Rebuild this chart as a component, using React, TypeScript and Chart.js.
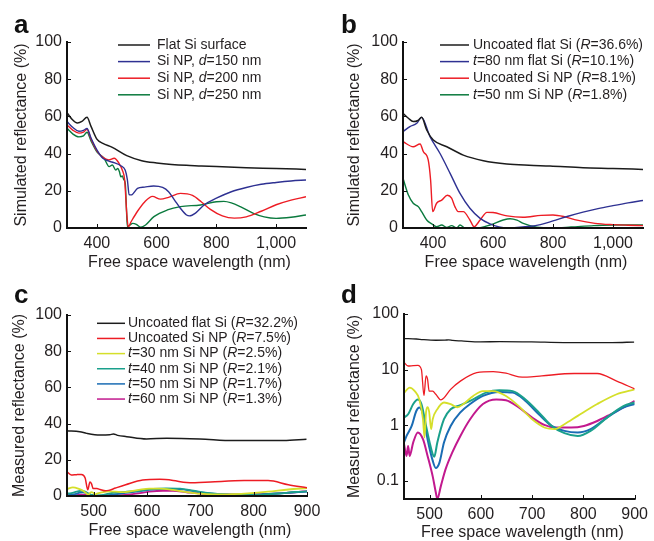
import React, { useEffect, useRef } from "react";
import { Chart, registerables } from "chart.js";

Chart.register(...registerables);

const FONT = "'Liberation Sans', Arial, Helvetica, sans-serif";
const TXT = "#231f20";

// ---------- Panel a: simulated, Si NP diameters ----------
const aFlatWl = [300, 315, 335, 350, 367, 380, 400, 420, 450, 500, 550, 600, 650, 700, 750, 800, 900, 1000, 1100];
const aFlatR = [62, 58.8, 56.5, 57.3, 59.5, 54.8, 47.8, 45.5, 43.5, 38.9, 36.2, 35, 34.2, 33.7, 33.4, 33, 32.4, 32, 31.5];
const aD150Wl = [300, 320, 340, 355, 367, 380, 400, 420, 440, 460, 480, 495, 502, 508, 515, 536, 560, 590, 620, 640, 660, 680, 700, 710, 730, 760, 800, 850, 900, 950, 1000, 1050, 1100];
const aD150R = [57.2, 54, 52, 52.5, 53.5, 48.5, 42, 37.5, 36, 35, 33.5, 31, 26, 18, 17.8, 21.3, 22, 22.6, 21.8, 19.5, 15, 10.5, 7, 6.5, 8, 12.5, 16, 19.5, 21.8, 23.5, 24.5, 25.3, 25.8];
const aD200Wl = [300, 320, 340, 355, 367, 380, 400, 420, 440, 458, 474, 485, 493, 500, 505, 515, 536, 560, 586, 613, 640, 680, 720, 750, 780, 820, 860, 900, 950, 1000, 1050, 1100];
const aD200R = [55.4, 52.5, 51, 51.5, 53, 48, 41.5, 38, 36.6, 37.5, 34.8, 31.2, 25.8, 7.9, 0.7, 3.5, 9, 14, 17, 15.5, 16.5, 18.6, 17.5, 14, 10, 6.5, 5.3, 6, 9, 12.5, 15, 16.8];
const aD250Wl = [300, 320, 340, 355, 367, 380, 400, 424, 441, 452, 463, 470, 476, 480, 485, 490, 495, 499, 502, 510, 520, 532, 547, 563, 591, 636, 680, 747, 800, 825, 850, 880, 924, 960, 1000, 1050, 1100];
const aD250R = [53.6, 50.5, 49, 49.5, 51.5, 47, 41, 37.5, 33, 33.9, 31.2, 32, 30, 27.5, 28, 26, 24, 10, 0.7, 1.5, 2.5, 2, 0.4, 1.6, 6.1, 9.7, 11.5, 12.4, 14.1, 14.3, 13.5, 11.5, 7.9, 6, 5.2, 5.8, 7];

// ---------- Panel b: simulated, coatings ----------
const bFlatWl = [300, 318, 334, 350, 362, 379, 401, 446, 501, 568, 646, 720, 790, 900, 1000, 1100];
const bFlatR = [61.7, 59, 57.2, 57.8, 59.5, 52.7, 47.3, 43.7, 39.2, 36.2, 34.4, 33.7, 33.3, 32.4, 32, 31.5];
const bT80Wl = [300, 323, 346, 362, 390, 423, 457, 490, 523, 557, 590, 620, 647, 680, 720, 758, 800, 850, 900, 950, 1000, 1050, 1100];
const bT80R = [51.8, 54.5, 56.3, 59.5, 49.1, 40.2, 29.4, 18.6, 10.6, 5.2, 2.2, 0.6, 0, 0.3, 0.8, 1.8, 3.8, 6.3, 8.5, 10.4, 12, 13.5, 14.8];
const bNPWl = [300, 334, 357, 368, 384, 392, 399, 412, 429, 448, 462, 473, 484, 501, 523, 537, 557, 580, 600, 647, 700, 760, 800, 840, 880, 940, 1000, 1050, 1100];
const bNPR = [46.4, 43.7, 45.2, 41, 36.6, 25.8, 8.8, 13.3, 15, 17.6, 16, 11.5, 8.8, 8.8, 4.3, 0.7, 4.3, 8.4, 8.3, 6.5, 5.8, 6.8, 7, 6, 4.2, 2.5, 1.8, 1.5, 1.3];
const bT50Wl = [300, 318, 334, 351, 362, 379, 396, 412, 429, 446, 462, 479, 490, 507, 546, 590, 634, 657, 680, 701, 746, 800, 860, 936, 1000, 1100];
const bT50R = [26.7, 17.7, 13.3, 11.5, 8.8, 4.3, 2.2, 0.7, 1.6, 0.3, 1.3, 0, 1.6, 0, 0, 1.6, 4.3, 5, 4.2, 2.5, 0.4, 0, 0.5, 1.3, 1.6, 1.7];

// ---------- Panels c and d: measured (same data, linear and log) ----------
const mFlatWl = [450, 474, 487, 512, 530, 537, 545, 562, 599, 637, 699, 762, 856, 899];
const mFlatR = [36.1, 35.5, 34.6, 33.7, 33.8, 34.3, 33.5, 32.8, 31.5, 31.9, 31.5, 30.6, 30.6, 31.3];
const mNPWl = [450, 458, 468, 477, 484, 489, 493, 496, 499, 506, 512, 522, 528, 541, 560, 592, 624, 649, 674, 690, 719, 782, 827, 865, 900];
const mNPR = [13.4, 11.6, 11.8, 11.9, 10, 3.4, 7.7, 6.7, 4.1, 4.1, 3.6, 2.85, 3.1, 4.4, 6.2, 8.8, 9.2, 8.6, 7.4, 7.3, 7.7, 8.5, 8.5, 6.2, 4.5];
const mT30Wl = [450, 461, 471, 480, 487, 490, 493, 496, 499, 503, 506, 515, 528, 541, 554, 566, 585, 604, 623, 649, 674, 700, 725, 744, 763, 789, 827, 865, 900];
const mT30R = [3.8, 4.75, 4.1, 2.9, 1.28, 0.6, 1.7, 2.1, 1.75, 0.85, 1.28, 1.94, 2.56, 2.4, 2.1, 2.4, 3.36, 4.1, 4.1, 3.36, 2.2, 1.28, 0.9, 0.85, 1.04, 1.47, 2.4, 3.6, 4.4];
const mT40Wl = [450, 458, 468, 477, 484, 493, 500, 506, 509, 515, 528, 541, 560, 585, 611, 636, 662, 687, 713, 738, 763, 789, 814, 846, 878, 900];
const mT40R = [1.37, 1.57, 2.4, 2.9, 2.4, 0.97, 0.49, 0.3, 0.27, 0.49, 1.28, 1.94, 2.29, 2.9, 3.9, 4.25, 4.1, 2.9, 1.7, 0.97, 0.72, 0.64, 0.79, 1.37, 2.2, 2.56];
const mT50Wl = [450, 455, 465, 474, 480, 487, 496, 506, 512, 519, 528, 541, 560, 579, 604, 636, 662, 687, 713, 738, 763, 789, 814, 846, 878, 900];
const mT50R = [0.49, 0.64, 0.97, 1.8, 2.08, 1.57, 0.56, 0.23, 0.17, 0.21, 0.49, 0.97, 1.7, 2.4, 3.36, 3.96, 3.85, 2.73, 1.57, 0.97, 0.79, 0.74, 0.85, 1.37, 2.08, 2.4];
const mT60Wl = [450, 455, 458, 461, 468, 477, 487, 496, 506, 512, 515, 522, 531, 544, 560, 579, 604, 630, 649, 674, 700, 725, 744, 776, 801, 827, 853, 878, 900];
const mT60R = [0.46, 0.28, 0.42, 0.28, 0.49, 0.74, 0.56, 0.28, 0.12, 0.062, 0.047, 0.081, 0.16, 0.32, 0.64, 1.28, 2.4, 2.9, 2.81, 2.08, 1.37, 1.0, 0.91, 0.91, 0.97, 1.19, 1.57, 2.08, 2.73];

// ---------- Axis ticks ----------
const simXTicks = [400, 600, 800, 1000];
const simYTicks = [0, 20, 40, 60, 80, 100];
const measXTicks = [500, 600, 700, 800, 900];
const measYTicksLin = [0, 20, 40, 60, 80, 100];
const measYTicksLog = [0.1, 1, 10, 100];

// ---------- Colours ----------
const BLACK = "#1c1c1c";
const NAVY = "#2e3192";
const RED = "#ed1c24";
const GREEN = "#0b7a3e";
const YELLOW = "#d5df2a";
const TEAL = "#1aa08c";
const BLUE = "#1a6cb4";
const MAGENTA = "#c2198e";

type Seg = [string, boolean];
interface Series { wl: number[]; r: number[]; color: string; width: number }
interface LegendSpec { items: { color: string; segs: Seg[] }[]; x0: number; x1: number; tx: number; y0: number; dy: number; size: number }
interface Spec {
  letter: string; W: number; H: number; left: number; right: number; top: number; bottom: number;
  xMin: number; xMax: number; xTicks: number[];
  yType: "linear" | "logarithmic"; yMin: number; yMax: number; yTicks: number[];
  yTitle: string; yTitleX: number; xTitleY: number;
  series: Series[]; legend?: LegendSpec;
}

const fmtX = (v: number) => (v >= 1000 ? v.toLocaleString("en-US") : String(v));

function buildChart(canvas: HTMLCanvasElement, s: Spec) {
  const overlay = {
    id: "overlay",
    afterDraw(chart: any) {
      const ctx: CanvasRenderingContext2D = chart.ctx;
      const ca = chart.chartArea;
      const xs = chart.scales.x;
      const ys = chart.scales.y;
      ctx.save();
      ctx.strokeStyle = "#111";
      ctx.lineWidth = 2;
      ctx.lineCap = "square";
      ctx.beginPath();
      ctx.moveTo(ca.left, ca.top);
      ctx.lineTo(ca.left, ca.bottom);
      ctx.lineTo(ca.right, ca.bottom);
      ctx.stroke();
      ctx.lineWidth = 1;
      ctx.lineCap = "butt";
      for (const v of s.xTicks) {
        const px = Math.round(xs.getPixelForValue(v)) + 0.5;
        ctx.beginPath();
        ctx.moveTo(px, ca.bottom);
        ctx.lineTo(px, ca.bottom - 4);
        ctx.stroke();
      }
      for (const v of s.yTicks) {
        const py = Math.round(ys.getPixelForValue(v)) + 0.5;
        ctx.beginPath();
        ctx.moveTo(ca.left, py);
        ctx.lineTo(ca.left + 4, py);
        ctx.stroke();
      }
      // titles
      ctx.fillStyle = TXT;
      ctx.font = `16px ${FONT}`;
      ctx.textAlign = "center";
      ctx.textBaseline = "alphabetic";
      ctx.fillText("Free space wavelength (nm)", (ca.left + ca.right) / 2 + 3, s.xTitleY);
      ctx.save();
      ctx.translate(s.yTitleX, (ca.top + ca.bottom) / 2);
      ctx.rotate(-Math.PI / 2);
      ctx.textBaseline = "middle";
      ctx.fillText(s.yTitle, 0, 0);
      ctx.restore();
      // panel letter
      ctx.font = `bold 26px ${FONT}`;
      ctx.textAlign = "left";
      ctx.textBaseline = "alphabetic";
      ctx.fillStyle = "#111";
      ctx.fillText(s.letter, 14, 33);
      // legend
      if (s.legend) {
        const L = s.legend;
        L.items.forEach((it, i) => {
          const y = L.y0 + i * L.dy;
          ctx.strokeStyle = it.color;
          ctx.lineWidth = 1.5;
          ctx.beginPath();
          ctx.moveTo(L.x0, y);
          ctx.lineTo(L.x1, y);
          ctx.stroke();
          let x = L.tx;
          ctx.fillStyle = TXT;
          ctx.textBaseline = "middle";
          for (const [t, it2] of it.segs) {
            ctx.font = `${it2 ? "italic " : ""}${L.size}px ${FONT}`;
            ctx.fillText(t, x, y);
            x += ctx.measureText(t).width;
          }
        });
      }
      ctx.restore();
    },
  };

  return new Chart(canvas, {
    type: "line",
    data: {
      datasets: s.series.map((se) => ({
        data: se.wl.map((w, i) => ({ x: w, y: se.r[i] })),
        borderColor: se.color,
        borderWidth: se.width,
        pointRadius: 0,
        fill: false,
        cubicInterpolationMode: "monotone" as const,
      })),
    },
    options: {
      responsive: false,
      animation: false,
      devicePixelRatio: 1,
      events: [],
      layout: { padding: { top: s.top, right: s.W - s.right, left: 0, bottom: 0 } },
      plugins: { legend: { display: false }, tooltip: { enabled: false }, title: { display: false } },
      scales: {
        x: {
          type: "linear",
          min: s.xMin,
          max: s.xMax,
          grid: { display: false, drawTicks: false },
          border: { display: false },
          afterBuildTicks: (sc: any) => { sc.ticks = s.xTicks.map((v) => ({ value: v })); },
          afterFit: (sc: any) => { sc.height = s.H - s.bottom; },
          ticks: {
            color: TXT,
            font: { family: FONT, size: 16 },
            padding: 6,
            maxRotation: 0,
            autoSkip: false,
            callback: (v: any) => fmtX(Number(v)),
          },
        },
        y: {
          type: s.yType,
          min: s.yMin,
          max: s.yMax,
          grid: { display: false, drawTicks: false },
          border: { display: false },
          afterBuildTicks: (sc: any) => { sc.ticks = s.yTicks.map((v) => ({ value: v })); },
          afterFit: (sc: any) => { sc.width = s.left; },
          ticks: {
            color: TXT,
            font: { family: FONT, size: 16 },
            padding: 5,
            autoSkip: false,
            callback: (v: any) => String(Number(v)),
          },
        },
      },
    } as any,
    plugins: [overlay],
  });
}

const specs: Spec[] = [
  {
    letter: "a", W: 327, H: 270, left: 67, right: 306, top: 42, bottom: 228,
    xMin: 300, xMax: 1100, xTicks: simXTicks, yType: "linear", yMin: 0, yMax: 100, yTicks: simYTicks,
    yTitle: "Simulated reflectance (%)", yTitleX: 22, xTitleY: 267,
    series: [
      { wl: aFlatWl, r: aFlatR, color: BLACK, width: 1.5 },
      { wl: aD150Wl, r: aD150R, color: NAVY, width: 1.4 },
      { wl: aD200Wl, r: aD200R, color: RED, width: 1.4 },
      { wl: aD250Wl, r: aD250R, color: GREEN, width: 1.4 },
    ],
    legend: {
      x0: 118, x1: 150, tx: 157, y0: 45, dy: 16.6, size: 14,
      items: [
        { color: BLACK, segs: [["Flat Si surface", false]] },
        { color: NAVY, segs: [["Si NP, ", false], ["d", true], ["=150 nm", false]] },
        { color: RED, segs: [["Si NP, ", false], ["d", true], ["=200 nm", false]] },
        { color: GREEN, segs: [["Si NP, ", false], ["d", true], ["=250 nm", false]] },
      ],
    },
  },
  {
    letter: "b", W: 327, H: 270, left: 76, right: 316, top: 42, bottom: 228,
    xMin: 300, xMax: 1100, xTicks: simXTicks, yType: "linear", yMin: 0, yMax: 100, yTicks: simYTicks,
    yTitle: "Simulated reflectance (%)", yTitleX: 28, xTitleY: 267,
    series: [
      { wl: bFlatWl, r: bFlatR, color: BLACK, width: 1.5 },
      { wl: bT80Wl, r: bT80R, color: NAVY, width: 1.4 },
      { wl: bNPWl, r: bNPR, color: RED, width: 1.4 },
      { wl: bT50Wl, r: bT50R, color: GREEN, width: 1.4 },
    ],
    legend: {
      x0: 113, x1: 142, tx: 146, y0: 45, dy: 16.6, size: 14,
      items: [
        { color: BLACK, segs: [["Uncoated flat Si (", false], ["R", true], ["=36.6%)", false]] },
        { color: NAVY, segs: [["t", true], ["=80 nm flat Si (", false], ["R", true], ["=10.1%)", false]] },
        { color: RED, segs: [["Uncoated Si NP (", false], ["R", true], ["=8.1%)", false]] },
        { color: GREEN, segs: [["t", true], ["=50 nm Si NP (", false], ["R", true], ["=1.8%)", false]] },
      ],
    },
  },
  {
    letter: "c", W: 327, H: 271, left: 67, right: 307, top: 45, bottom: 226,
    xMin: 450, xMax: 900, xTicks: measXTicks, yType: "linear", yMin: 0, yMax: 100, yTicks: measYTicksLin,
    yTitle: "Measured reflectance (%)", yTitleX: 20, xTitleY: 265,
    series: [
      { wl: mFlatWl, r: mFlatR, color: BLACK, width: 1.5 },
      { wl: mNPWl, r: mNPR, color: RED, width: 1.5 },
      { wl: mT30Wl, r: mT30R, color: YELLOW, width: 1.8 },
      { wl: mT40Wl, r: mT40R, color: TEAL, width: 1.8 },
      { wl: mT50Wl, r: mT50R, color: BLUE, width: 1.8 },
      { wl: mT60Wl, r: mT60R, color: MAGENTA, width: 1.8 },
    ],
    legend: {
      x0: 97, x1: 125, tx: 128, y0: 53.3, dy: 15.15, size: 14,
      items: [
        { color: BLACK, segs: [["Uncoated flat Si (", false], ["R", true], ["=32.2%)", false]] },
        { color: RED, segs: [["Uncoated Si NP (", false], ["R", true], ["=7.5%)", false]] },
        { color: YELLOW, segs: [["t", true], ["=30 nm Si NP (", false], ["R", true], ["=2.5%)", false]] },
        { color: TEAL, segs: [["t", true], ["=40 nm Si NP (", false], ["R", true], ["=2.1%)", false]] },
        { color: BLUE, segs: [["t", true], ["=50 nm Si NP (", false], ["R", true], ["=1.7%)", false]] },
        { color: MAGENTA, segs: [["t", true], ["=60 nm Si NP (", false], ["R", true], ["=1.3%)", false]] },
      ],
    },
  },
  {
    letter: "d", W: 327, H: 271, left: 77, right: 313, top: 44, bottom: 229,
    xMin: 450, xMax: 900, xTicks: measXTicks, yType: "logarithmic", yMin: 0.047, yMax: 100, yTicks: measYTicksLog,
    yTitle: "Measured reflectance (%)", yTitleX: 28, xTitleY: 267,
    series: [
      { wl: mFlatWl, r: mFlatR, color: BLACK, width: 1.3 },
      { wl: mNPWl, r: mNPR, color: RED, width: 1.3 },
      { wl: mT30Wl, r: mT30R, color: YELLOW, width: 1.8 },
      { wl: mT40Wl, r: mT40R, color: TEAL, width: 2 },
      { wl: mT50Wl, r: mT50R, color: BLUE, width: 2 },
      { wl: mT60Wl, r: mT60R, color: MAGENTA, width: 2 },
    ],
  },
];

const positions = [
  { left: 0, top: 0 },
  { left: 327, top: 0 },
  { left: 0, top: 270 },
  { left: 327, top: 270 },
];

function Panel({ spec, pos }: { spec: Spec; pos: { left: number; top: number } }) {
  const ref = useRef<HTMLCanvasElement | null>(null);
  useEffect(() => {
    if (!ref.current) return;
    const chart = buildChart(ref.current, spec);
    return () => chart.destroy();
  }, [spec]);
  return (
    <canvas
      ref={ref}
      width={spec.W}
      height={spec.H}
      style={{ position: "absolute", left: pos.left, top: pos.top, width: spec.W, height: spec.H }}
    />
  );
}

export default function App() {
  useEffect(() => {
    document.body.style.margin = "0";
    document.body.style.background = "#ffffff";
  }, []);
  return (
    <div style={{ position: "absolute", left: 0, top: 0, width: 654, height: 541, background: "#fff", overflow: "hidden" }}>
      {specs.map((s, i) => (
        <Panel key={s.letter} spec={s} pos={positions[i]} />
      ))}
    </div>
  );
}
